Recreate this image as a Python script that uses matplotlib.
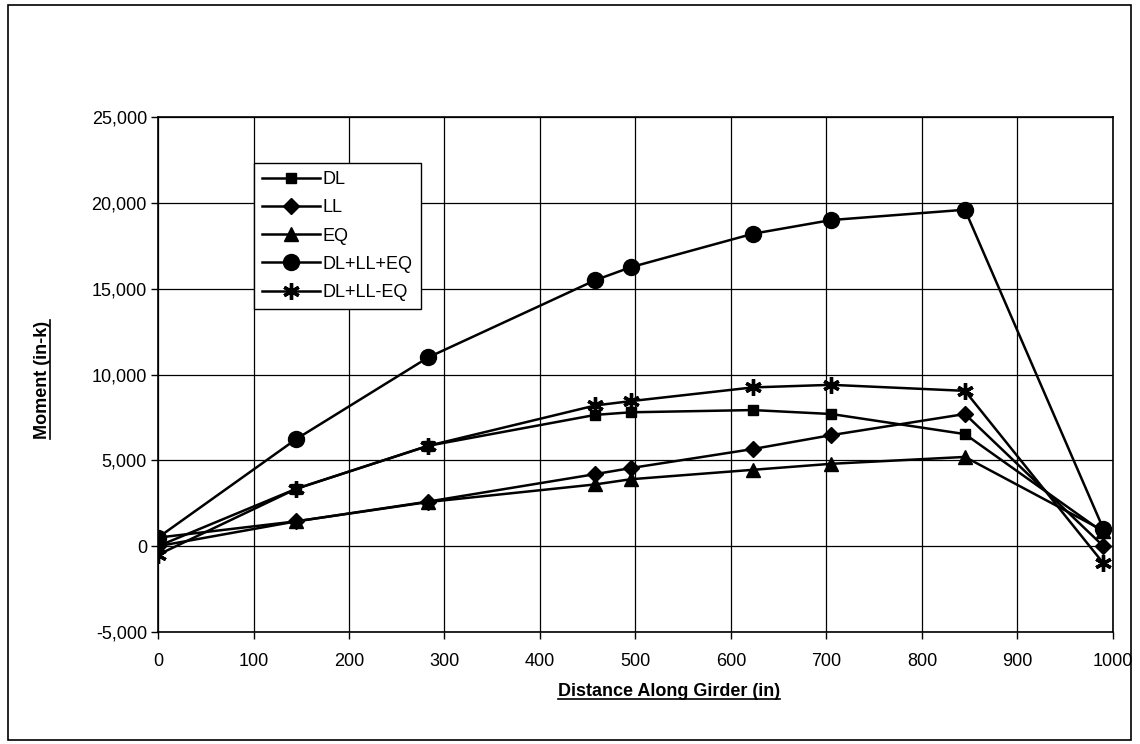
import numpy as np
import matplotlib.pyplot as plt
from matplotlib.patches import Rectangle
from matplotlib.lines import Line2D
from matplotlib.ticker import FuncFormatter

plt.rcParams['font.family'] = ['Liberation Sans', 'DejaVu Sans']

distance = [0, 145, 283, 458, 495, 623, 705, 845, 990]
dl = [0, 3350, 5850, 7650, 7800, 7930, 7700, 6530, 800]
ll = [0, 1450, 2600, 4200, 4550, 5660, 6470, 7700, 0]
eq = [500, 1450, 2575, 3600, 3900, 4450, 4800, 5200, 900]
dl_ll_eq = [500, 6250, 11000, 15500, 16250, 18200, 19000, 19600, 1000]
dl_ll_minus_eq = [-500, 3350, 5850, 8200, 8450, 9250, 9400, 9050, -1000]

series = [
    ('DL', dl, 's', 7),
    ('LL', ll, 'D', 8.5),
    ('EQ', eq, '^', 10),
    ('DL+LL+EQ', dl_ll_eq, 'o', 11.5),
    ('DL+LL-EQ', dl_ll_minus_eq, (6, 2, 0), 12),
]

fig = plt.figure(figsize=(11.4, 7.44), dpi=100)
ax = fig.add_axes([0.1386, 0.1505, 0.9763 - 0.1386, 0.8427 - 0.1505])

for name, vals, mk, ms in series:
    ax.plot(distance, vals, color='black', linewidth=1.8, marker=mk,
            markersize=ms, markeredgewidth=2.4 if mk == (6, 2, 0) else 1,
            markerfacecolor='black', markeredgecolor='black', label=name)

ax.set_xlim(0, 1000)
ax.set_ylim(-5000, 25000)
ax.set_xticks(np.arange(0, 1001, 100))
ax.set_yticks(np.arange(-5000, 25001, 5000))
ax.yaxis.set_major_formatter(FuncFormatter(lambda v, p: f'{int(v):,}'))
ax.grid(True, color='black', linewidth=0.9)
ax.tick_params(direction='out', length=5, width=1, labelsize=13, colors='black')
ax.tick_params(axis='y', pad=3)
ax.tick_params(axis='x', pad=10)
for s in ax.spines.values():
    s.set_linewidth(1.2)
    s.set_color('black')

leg = ax.legend(loc='upper left', bbox_to_anchor=(0.1005, 0.9107), borderaxespad=0,
                fontsize=13, frameon=True, fancybox=False, edgecolor='black',
                framealpha=1, handlelength=3.2, handletextpad=0.15, labelspacing=0.62,
                borderpad=0.45)
leg.get_frame().set_linewidth(1.0)

# axis titles, bold and underlined
xl = fig.text(0.587, 0.07, 'Distance Along Girder (in)', fontsize=13, fontweight='bold',
              ha='center', va='center')
yl = fig.text(0.037, 0.49, 'Moment (in-k)', fontsize=13, fontweight='bold',
              ha='center', va='center', rotation=90)

fig.canvas.draw()
r = fig.canvas.get_renderer()
inv = fig.transFigure.inverted()
bb = xl.get_window_extent(r)
(x0, y0), (x1, y1) = inv.transform([(bb.x0, bb.y0), (bb.x1, bb.y1)])
fig.add_artist(Line2D([x0, x1], [y0 + 0.002, y0 + 0.002], color='black', linewidth=1.2,
                      transform=fig.transFigure))
bb = yl.get_window_extent(r)
(x0, y0), (x1, y1) = inv.transform([(bb.x0, bb.y0), (bb.x1, bb.y1)])
fig.add_artist(Line2D([x1 - 0.0005, x1 - 0.0005], [y0, y1], color='black', linewidth=1.2,
                      transform=fig.transFigure))

# outer chart border
fig.add_artist(Rectangle((8 / 1140, 1 - 740 / 744), (1131 - 8) / 1140, (740 - 5) / 744,
                         transform=fig.transFigure, fill=False, edgecolor='black',
                         linewidth=1.2))

plt.savefig('out.png', dpi=100)
